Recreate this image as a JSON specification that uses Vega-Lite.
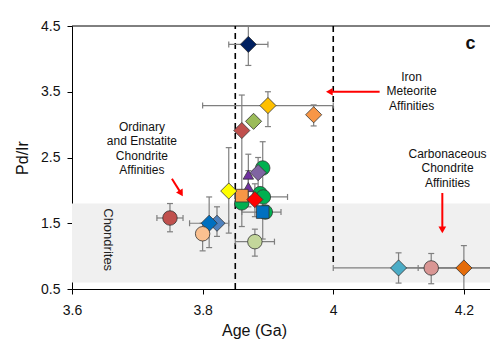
{
  "$schema": "https://vega.github.io/schema/vega-lite/v6.json",
  "width": 418,
  "height": 263,
  "autosize": {"type": "none"},
  "padding": {"left": 72, "top": 26, "right": 0, "bottom": 50},
  "background": "white",
  "config": {
    "view": {"stroke": null},
    "font": "Liberation Sans",
    "axis": {"domainColor": "#000", "tickColor": "#000", "labelColor": "#111", "titleColor": "#111", "labelFont": "Liberation Sans", "titleFont": "Liberation Sans", "grid": false, "labelFontSize": 14, "titleFontSize": 16, "titleFontWeight": "normal", "tickSize": 5, "domainWidth": 1, "tickWidth": 1}
  },
  "datasets": {
    "pts": [
      {"id": "p01", "kind": "circle", "x": 3.892, "y": 2.34, "ylo": 1.95, "yhi": 2.74},
      {"id": "p02", "kind": "circle", "x": 3.888, "y": 1.95},
      {"id": "p03", "kind": "circle", "x": 3.893, "y": 1.9, "xlo": 3.85, "xhi": 3.93},
      {"id": "p04", "kind": "circle", "x": 3.896, "y": 1.67},
      {"id": "p05", "kind": "circle", "x": 3.86, "y": 1.81, "ylo": 1.45, "yhi": 1.81},
      {"id": "p06", "kind": "diamond", "x": 3.87, "y": 4.22, "ylo": 3.9, "yhi": 4.7, "xlo": 3.84, "xhi": 3.9},
      {"id": "p07", "kind": "diamond", "x": 3.9, "y": 3.29, "ylo": 2.97, "yhi": 3.5, "xlo": 3.8, "xhi": 4.0},
      {"id": "p08", "kind": "diamond", "x": 3.97, "y": 3.15, "ylo": 2.98, "yhi": 3.3},
      {"id": "p09", "kind": "diamond", "x": 3.878, "y": 3.05},
      {"id": "p10", "kind": "diamond", "x": 3.86, "y": 2.91, "ylo": 2.0, "yhi": 3.45},
      {"id": "p11", "kind": "diamond", "x": 3.885, "y": 2.27, "ylo": 2.0, "yhi": 2.5},
      {"id": "p12", "kind": "triangle", "x": 3.87, "y": 2.24, "ylo": 2.0, "yhi": 2.55},
      {"id": "p13", "kind": "triangle", "x": 3.87, "y": 2.05, "ylo": 1.75, "yhi": 2.3},
      {"id": "p14", "kind": "square", "x": 3.86, "y": 1.92},
      {"id": "p15", "kind": "diamond", "x": 3.88, "y": 1.86, "ylo": 1.6, "yhi": 2.1},
      {"id": "p16", "kind": "square", "x": 3.892, "y": 1.67, "ylo": 1.26, "yhi": 1.9, "xlo": 3.86, "xhi": 3.92},
      {"id": "p17", "kind": "diamond", "x": 3.84, "y": 1.99, "ylo": 1.35, "yhi": 2.65},
      {"id": "p18", "kind": "diamond", "x": 3.822, "y": 1.5, "ylo": 1.3, "yhi": 1.75},
      {"id": "p19", "kind": "diamond", "x": 3.81, "y": 1.5, "ylo": 1.13, "yhi": 1.9, "xlo": 3.78, "xhi": 3.84},
      {"id": "p20", "kind": "circle", "x": 3.8, "y": 1.34, "ylo": 1.08, "yhi": 1.5},
      {"id": "p21", "kind": "circle", "x": 3.75, "y": 1.58, "ylo": 1.37, "yhi": 1.8, "xlo": 3.73, "xhi": 3.77},
      {"id": "p22", "kind": "circle", "x": 3.88, "y": 1.22, "ylo": 1.0, "yhi": 1.41, "xlo": 3.85, "xhi": 3.91},
      {"id": "p23", "kind": "diamond", "x": 4.1, "y": 0.82, "ylo": 0.59, "yhi": 1.05, "xlo": 4.0, "xhi": 4.3},
      {"id": "p24", "kind": "circle", "x": 4.15, "y": 0.82, "ylo": 0.58, "yhi": 1.04, "xlo": 4.13, "xhi": 4.2},
      {"id": "p25", "kind": "diamond", "x": 4.2, "y": 0.82, "ylo": 0.45, "yhi": 1.16, "xlo": 4.1, "xhi": 4.3}
    ]
  },
  "layer": [
    {
      "data": {"values": [{"x": 3.6, "x2": 4.3, "y": 0.6, "y2": 1.8}]},
      "mark": {"type": "rect", "color": "#f0f0f0", "clip": true},
      "encoding": {
        "x": {"field": "x", "type": "quantitative", "scale": {"domain": [3.6, 4.24], "nice": false, "zero": false}, "title": "Age (Ga)",
          "axis": {"values": [3.6, 3.8, 4.0, 4.2], "format": "~g", "labelOverlap": false, "labelFlush": false, "labelPadding": 9, "titleX": 182, "titleY": 41, "titleBaseline": "middle", "titleAlign": "center"}},
        "x2": {"field": "x2"},
        "y": {"field": "y", "type": "quantitative", "scale": {"domain": [0.5, 4.5], "nice": false, "zero": false}, "title": "Pd/Ir",
          "axis": {"values": [0.5, 1.5, 2.5, 3.5, 4.5], "format": ".1f", "labelOverlap": false, "labelFlush": false, "labelPadding": 7, "titleX": -50, "titleY": 131.5, "titleAngle": -90, "titleBaseline": "middle", "titleAlign": "center"}},
        "y2": {"field": "y2"}
      }
    },
    {
      "data": {"values": [{"x": 3.6, "x2": 4.24, "y": 4.5}]},
      "mark": {"type": "rule", "color": "#000", "strokeWidth": 1},
      "encoding": {"x": {"field": "x", "type": "quantitative"}, "x2": {"field": "x2"}, "y": {"field": "y", "type": "quantitative"}}
    },
    {
      "data": {"values": [{"label": "Chondrites", "x": 3.655, "y": 1.25}]},
      "mark": {"type": "text", "angle": 90, "fontSize": 13, "color": "#222", "align": "center", "baseline": "middle"},
      "encoding": {"x": {"field": "x", "type": "quantitative"}, "y": {"field": "y", "type": "quantitative"}, "text": {"field": "label"}}
    },
    {
      "data": {"values": [{"x": 3.85, "y": 0.5, "y2": 4.5}, {"x": 4.0, "y": 0.91, "y2": 4.5}]},
      "mark": {"type": "rule", "color": "#000", "strokeWidth": 1.6, "strokeDash": [6, 4]},
      "encoding": {"x": {"field": "x", "type": "quantitative"}, "y": {"field": "y", "type": "quantitative"}, "y2": {"field": "y2"}}
    },
    {
      "data": {"name": "pts"},
      "transform": [{"filter": "isValid(datum.xlo)"}],
      "mark": {"type": "rule", "color": "#7f7f7f", "strokeWidth": 1.2, "clip": true},
      "encoding": {"x": {"field": "xlo", "type": "quantitative"}, "x2": {"field": "xhi"}, "y": {"field": "y", "type": "quantitative"}}
    },
    {
      "data": {"name": "pts"},
      "transform": [{"filter": "isValid(datum.ylo)"}],
      "mark": {"type": "rule", "color": "#7f7f7f", "strokeWidth": 1.2, "clip": true},
      "encoding": {"x": {"field": "x", "type": "quantitative"}, "y": {"field": "ylo", "type": "quantitative"}, "y2": {"field": "yhi"}}
    },
    {
      "data": {"name": "pts"},
      "transform": [{"filter": "isValid(datum.ylo)"}],
      "mark": {"type": "point", "shape": "M-1,0H1", "filled": false, "stroke": "#7f7f7f", "strokeWidth": 1.2, "size": 36, "opacity": 1, "clip": true},
      "encoding": {"x": {"field": "x", "type": "quantitative"}, "y": {"field": "ylo", "type": "quantitative"}}
    },
    {
      "data": {"name": "pts"},
      "transform": [{"filter": "isValid(datum.yhi)"}],
      "mark": {"type": "point", "shape": "M-1,0H1", "filled": false, "stroke": "#7f7f7f", "strokeWidth": 1.2, "size": 36, "opacity": 1, "clip": true},
      "encoding": {"x": {"field": "x", "type": "quantitative"}, "y": {"field": "yhi", "type": "quantitative"}}
    },
    {
      "data": {"name": "pts"},
      "transform": [{"filter": "isValid(datum.xlo)"}],
      "mark": {"type": "point", "shape": "M0,-1V1", "filled": false, "stroke": "#7f7f7f", "strokeWidth": 1.2, "size": 36, "opacity": 1, "clip": true},
      "encoding": {"x": {"field": "xlo", "type": "quantitative"}, "y": {"field": "y", "type": "quantitative"}}
    },
    {
      "data": {"name": "pts"},
      "transform": [{"filter": "isValid(datum.xhi)"}],
      "mark": {"type": "point", "shape": "M0,-1V1", "filled": false, "stroke": "#7f7f7f", "strokeWidth": 1.2, "size": 36, "opacity": 1, "clip": true},
      "encoding": {"x": {"field": "xhi", "type": "quantitative"}, "y": {"field": "y", "type": "quantitative"}}
    },
    {
      "data": {"name": "pts"},
      "mark": {"type": "point", "filled": true, "opacity": 1, "stroke": "#333", "strokeWidth": 0.8, "clip": true},
      "encoding": {
        "x": {"field": "x", "type": "quantitative"},
        "y": {"field": "y", "type": "quantitative"},
        "color": {"field": "id", "type": "nominal", "legend": null, "scale": {
          "domain": ["p01","p02","p03","p04","p05","p06","p07","p08","p09","p10","p11","p12","p13","p14","p15","p16","p17","p18","p19","p20","p21","p22","p23","p24","p25"],
          "range": ["#00B050","#00B050","#00B050","#00B050","#00B050","#002060","#FFC000","#F79646","#9BBB59","#C0504D","#8064A2","#7030A0","#7030A0","#F79646","#FF0000","#0070C0","#FFFF00","#4F81BD","#0070C0","#FAC090","#C0504D","#C3D69B","#4BACC6","#D99694","#E46C0A"]}},
        "shape": {"field": "kind", "type": "nominal", "legend": null, "scale": {"domain": ["diamond", "circle", "square", "triangle"], "range": ["diamond", "circle", "square", "triangle-up"]}},
        "size": {"field": "kind", "type": "nominal", "legend": null, "scale": {"domain": ["diamond", "circle", "square", "triangle"], "range": [260, 110, 130, 200]}},
        "order": {"field": "id", "type": "nominal"}
      }
    },
    {
      "data": {"values": [
        {"x": 4.071, "y": 3.5, "x2": 3.995, "y2": 3.5},
        {"x": 4.167, "y": 1.96, "x2": 4.167, "y2": 1.41},
        {"x": 3.753, "y": 2.177, "x2": 3.767, "y2": 1.954}
      ]},
      "mark": {"type": "rule", "color": "#FF0000", "strokeWidth": 2},
      "encoding": {"x": {"field": "x", "type": "quantitative"}, "y": {"field": "y", "type": "quantitative"}, "x2": {"field": "x2"}, "y2": {"field": "y2"}}
    },
    {
      "data": {"values": [{"x": 3.994, "y": 3.5}]},
      "mark": {"type": "point", "shape": "triangle-left", "filled": true, "color": "#FF0000", "opacity": 1, "size": 60},
      "encoding": {"x": {"field": "x", "type": "quantitative"}, "y": {"field": "y", "type": "quantitative"}}
    },
    {
      "data": {"values": [{"x": 4.167, "y": 1.4}]},
      "mark": {"type": "point", "shape": "triangle-down", "filled": true, "color": "#FF0000", "opacity": 1, "size": 60},
      "encoding": {"x": {"field": "x", "type": "quantitative"}, "y": {"field": "y", "type": "quantitative"}}
    },
    {
      "data": {"values": [{"x": 3.767, "y": 1.954}]},
      "mark": {"type": "point", "shape": "triangle-up", "angle": 149, "filled": true, "color": "#FF0000", "opacity": 1, "size": 60},
      "encoding": {"x": {"field": "x", "type": "quantitative"}, "y": {"field": "y", "type": "quantitative"}}
    },
    {
      "data": {"values": [
        {"label": "Iron\nMeteorite\nAffinities", "x": 4.12, "y": 3.73},
        {"label": "Ordinary\nand Enstatite\nChondrite\nAffinities", "x": 3.707, "y": 2.97},
        {"label": "Carbonaceous\nChondrite\nAffinities", "x": 4.175, "y": 2.56}
      ]},
      "mark": {"type": "text", "fontSize": 12, "lineHeight": 14.5, "lineBreak": "\n", "align": "center", "baseline": "middle", "color": "#111"},
      "encoding": {"x": {"field": "x", "type": "quantitative"}, "y": {"field": "y", "type": "quantitative"}, "text": {"field": "label"}}
    },
    {
      "data": {"values": [{"label": "c", "x": 4.21, "y": 4.23}]},
      "mark": {"type": "text", "fontSize": 18, "fontWeight": "bold", "align": "center", "baseline": "middle", "color": "#111"},
      "encoding": {"x": {"field": "x", "type": "quantitative"}, "y": {"field": "y", "type": "quantitative"}, "text": {"field": "label"}}
    }
  ]
}
